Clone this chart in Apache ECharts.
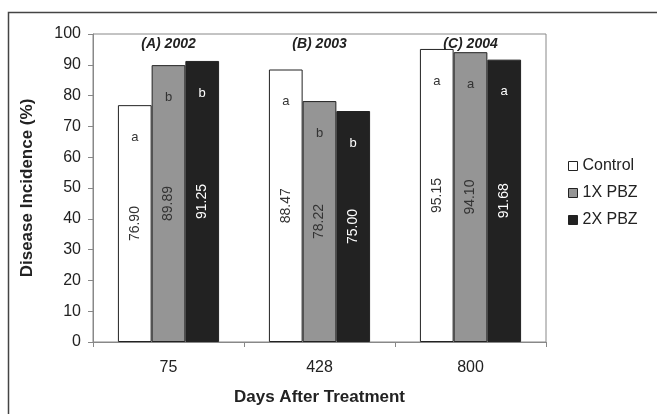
<!DOCTYPE html>
<html><head><meta charset="utf-8">
<script src="https://cdn.jsdelivr.net/npm/echarts@6/dist/echarts.min.js"></script>
<style>html,body{margin:0;padding:0;background:#fff}#c{width:657px;height:414px}</style>
</head><body><div id="c"></div>
<script>
var categories = ['75', '428', '800'];
var yearLabels = ['(A) 2002', '(B) 2003', '(C) 2004'];
var control = [76.90, 88.47, 95.15];
var pbz1 = [89.89, 78.22, 94.10];
var pbz2 = [91.25, 75.00, 91.68];
var lettersControl = ['a', 'a', 'a'];
var letters1 = ['b', 'b', 'a'];
var letters2 = ['b', 'b', 'a'];
var yTicks = [0, 10, 20, 30, 40, 50, 60, 70, 80, 90, 100];

var FONT = 'Liberation Sans, Arial, sans-serif';

function marks(values, letters, color) {
  return {
    symbol: 'rect', symbolSize: 0, silent: true,
    label: { show: true, position: 'inside', offset: [0, 32], color: color, fontSize: 13, fontFamily: FONT,
      formatter: function (p) { return p.data.name; } },
    data: values.map(function (v, i) { return { coord: [i, v], name: letters[i] }; })
  };
}

function bar(name, values, letters, fill, textColor) {
  return {
    name: name, type: 'bar', data: values, barGap: '0%', barCategoryGap: '33%',
    itemStyle: { color: fill, borderColor: '#222', borderWidth: 1 },
    label: { show: true, position: 'inside', rotate: 90, color: textColor, fontSize: 14, fontFamily: FONT,
      formatter: function (p) { return p.value.toFixed(2); } },
    markPoint: marks(values, letters, textColor)
  };
}

var chart = echarts.init(document.getElementById('c'));
chart.setOption({
  animation: false,
  backgroundColor: '#fff',
  graphic: [{ type: 'rect', shape: { x: 8.5, y: 12.5, width: 700, height: 500 },
    style: { fill: 'none', stroke: '#444', lineWidth: 1.5 }, silent: true }],
  grid: { left: 93, right: 111, top: 34, bottom: 72, show: true, borderColor: '#888', borderWidth: 1, backgroundColor: 'transparent' },
  legend: {
    orient: 'vertical', left: 563, top: 153, itemWidth: 9, itemHeight: 9, itemGap: 11,
    icon: 'rect',
    textStyle: { fontSize: 16, fontFamily: FONT, color: '#222' },
    itemStyle: { borderColor: '#222', borderWidth: 1 }
  },
  xAxis: [{
    type: 'category', data: categories, position: 'bottom',
    name: 'Days After Treatment', nameLocation: 'middle', nameGap: 47,
    nameTextStyle: { fontSize: 17, fontWeight: 'bold', fontFamily: FONT, color: '#222' },
    axisLine: { show: true, lineStyle: { color: '#888' } },
    axisTick: { show: true, length: 5, lineStyle: { color: '#888' } },
    axisLabel: { fontSize: 16, fontFamily: FONT, color: '#222', margin: 18 }
  }, {
    type: 'category', data: yearLabels, position: 'top',
    axisLine: { show: false }, axisTick: { show: false },
    axisLabel: { inside: true, margin: 3, fontSize: 14, fontWeight: 'bold', fontStyle: 'italic', fontFamily: FONT, color: '#222' }
  }],
  yAxis: {
    type: 'value', min: yTicks[0], max: yTicks[yTicks.length - 1], interval: 10,
    name: 'Disease Incidence (%)', nameLocation: 'middle', nameGap: 57,
    nameTextStyle: { fontSize: 17, fontWeight: 'bold', fontFamily: FONT, color: '#222' },
    axisLine: { show: true, lineStyle: { color: '#888' } },
    axisTick: { show: true, length: 5, lineStyle: { color: '#888' } },
    axisLabel: { fontSize: 16, fontFamily: FONT, color: '#222', margin: 12 },
    splitLine: { show: false }
  },
  series: [
    bar('Control', control, lettersControl, '#ffffff', '#333'),
    bar('1X PBZ', pbz1, letters1, '#959595', '#333'),
    bar('2X PBZ', pbz2, letters2, '#222222', '#fff')
  ]
});
</script></body></html>
